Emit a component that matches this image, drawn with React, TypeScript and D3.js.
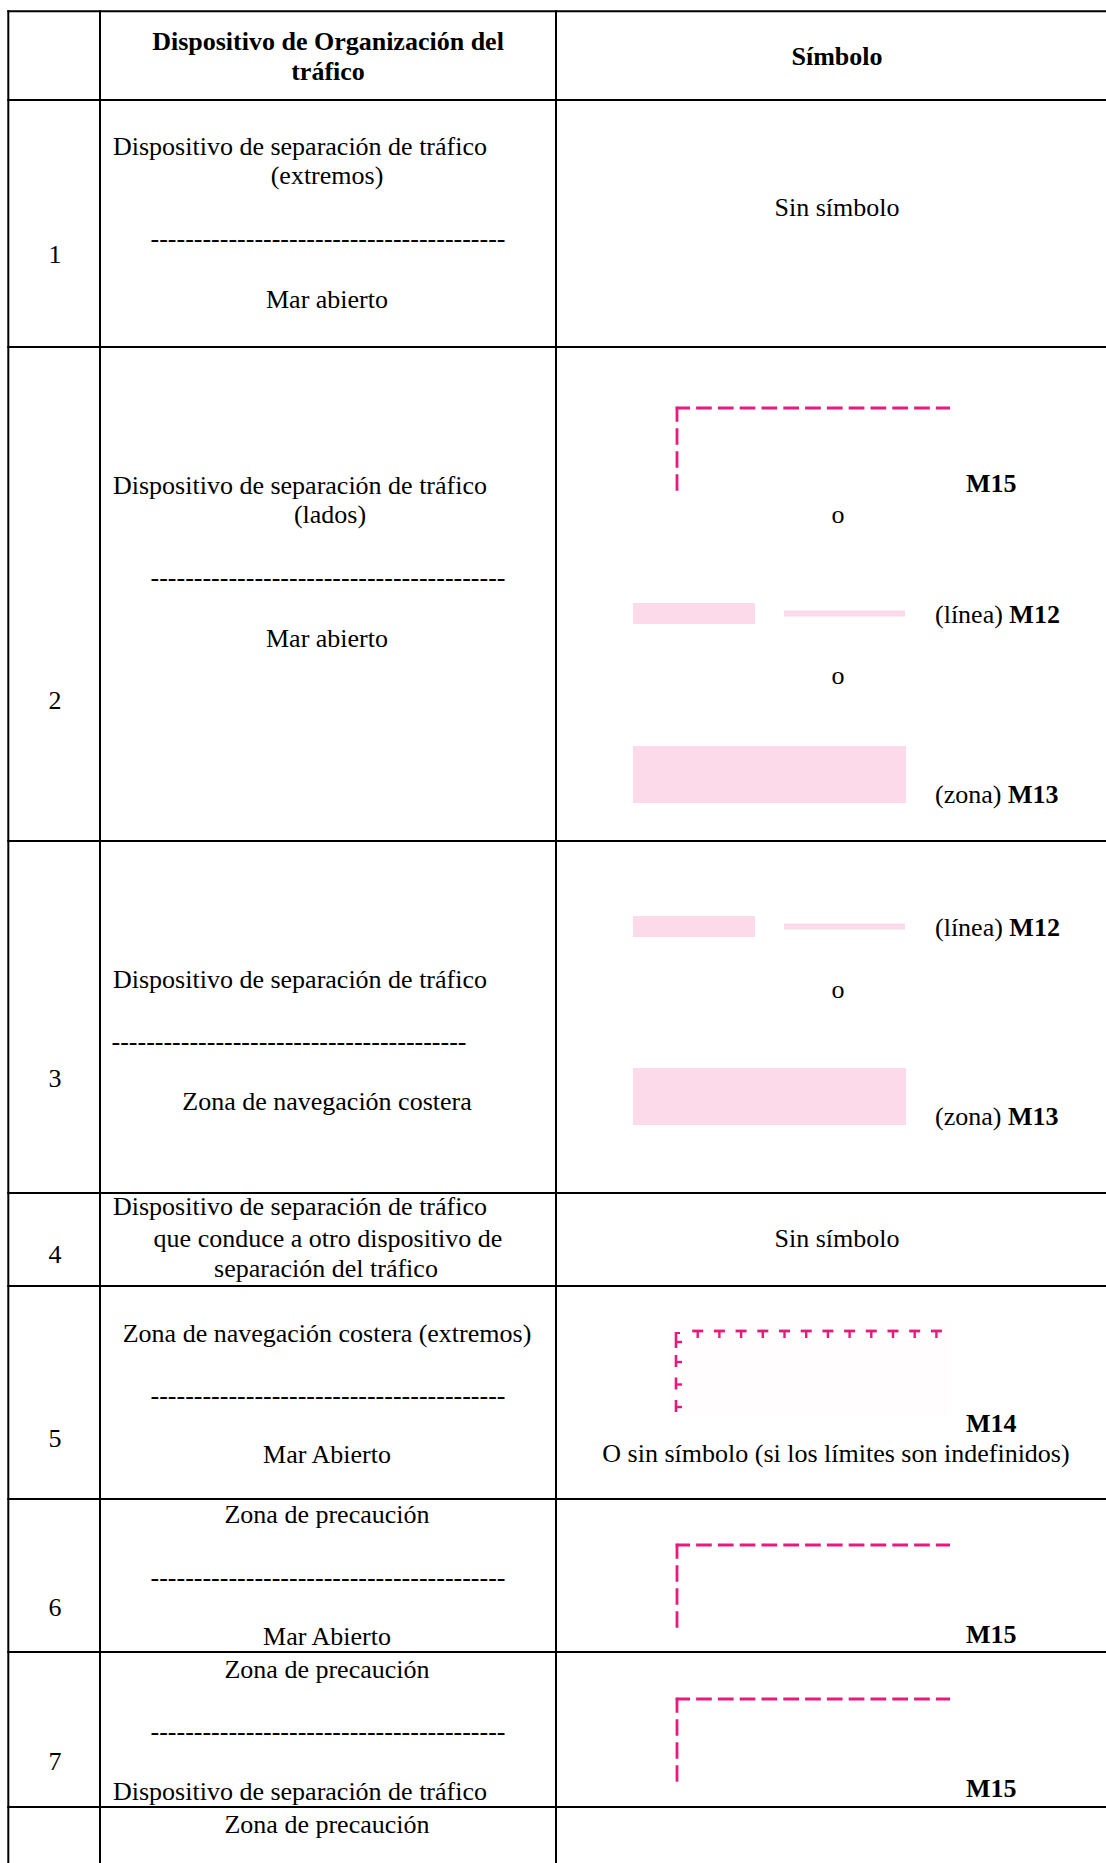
import React from 'react';
import * as d3 from 'd3';

// ---- table content ----
const headerDevice = ['Dispositivo de Organización del', 'tráfico'];
const headerSymbol = 'Símbolo';
const rowNumbers = ['1', '2', '3', '4', '5', '6', '7', ''];

const DASHES = '-'.repeat(41);

const deviceText = [
  ['Dispositivo de separación de tráfico', '(extremos)', DASHES, 'Mar abierto'],
  ['Dispositivo de separación de tráfico', '(lados)', DASHES, 'Mar abierto'],
  ['Dispositivo de separación de tráfico', DASHES, 'Zona de navegación costera'],
  ['Dispositivo de separación de tráfico', 'que conduce a otro dispositivo de', 'separación del tráfico'],
  ['Zona de navegación costera (extremos)', DASHES, 'Mar Abierto'],
  ['Zona de precaución', DASHES, 'Mar Abierto'],
  ['Zona de precaución', DASHES, 'Dispositivo de separación de tráfico'],
  ['Zona de precaución'],
];

// symbol kinds per row
const symbolKinds = [
  ['none'],
  ['M15', 'or', 'M12', 'or', 'M13'],
  ['M12', 'or', 'M13'],
  ['none'],
  ['M14'],
  ['M15'],
  ['M15'],
  [],
];
const noSymbolText = 'Sin símbolo';
const orText = 'o';
const m14Note = 'O sin símbolo (si los límites son indefinidos)';
const lineLabel = '(línea) ';
const zoneLabel = '(zona) ';

// ---- layout ----
const W = 1106;
const H = 1863;
const FONT = '"Liberation Serif", "Times New Roman", serif';
const FS = 26;
const MAGENTA = '#e8197f';
const PINK = '#fcdaea';

const colEdges = [8.3, 100, 556, 1120];
const rowEdges = [11.3, 100, 347, 841, 1193, 1286, 1499, 1652, 1807, 1900];

// center x + baseline for each device line
const deviceLayout = [
  [[300, 155], [327, 184], [328, 247], [327, 308]],
  [[300, 494], [330, 523], [328, 586], [327, 647]],
  [[300, 988], [289, 1050], [327, 1110]],
  [[300, 1215], [328, 1247], [326, 1277]],
  [[327, 1342], [328, 1404], [327, 1463]],
  [[327, 1523], [328, 1586], [327, 1645]],
  [[327, 1678], [328, 1740], [300, 1800]],
  [[327, 1833]],
];
const numberBaselines = [263, 709, 1087, 1263, 1447, 1616, 1770];

// vertical anchors for each symbol item (top y or baseline), and M15 label drop
const symbolLayout = [
  [216],
  [408, 523, 603, 684, 746],
  [916, 998, 1068],
  [1247],
  [1331],
  [1545],
  [1699],
  [],
];
const m15LabelDrop = [0, 84, 0, 0, 0, 98, 98, 0];

const symX = d3.scaleLinear().domain([0, 1]).range([633, 906]);

function M15({ top, drop }: { top: number; drop: number }) {
  const x0 = 677, x1 = 950, len = 84;
  return (
    <g>
      <line x1={x0 - 1.3} y1={top} x2={x1} y2={top} stroke={MAGENTA} strokeWidth={2.8}
        strokeDasharray="15.7 6.1" strokeDashoffset={1.4} />
      <line x1={x0} y1={top - 1.3} x2={x0} y2={top + len} stroke={MAGENTA} strokeWidth={2.8}
        strokeDasharray="16.5 6.5" strokeDashoffset={1.5} />
      <text x={966} y={top + drop} fontWeight="bold">M15</text>
    </g>
  );
}

function M12({ top }: { top: number }) {
  const thickH = 21, thinH = 6;
  return (
    <g>
      <rect x={symX(0)} y={top} width={755 - symX(0)} height={thickH} fill={PINK} />
      <rect x={784} y={top + (thickH - thinH) / 2} width={121} height={thinH} fill={PINK} />
      <text x={935} y={top + 20}>{lineLabel}<tspan fontWeight="bold">M12</tspan></text>
    </g>
  );
}

function M13({ top }: { top: number }) {
  const h = 57;
  return (
    <g>
      <rect x={symX(0)} y={top} width={symX(1) - symX(0)} height={h} fill={PINK} />
      <text x={935} y={top + h}>{zoneLabel}<tspan fontWeight="bold">M13</tspan></text>
    </g>
  );
}

function M14({ top }: { top: number }) {
  const x0 = 676;
  const tees = d3.range(697.7, 940, 21.7);
  const fs = d3.range(top + 24, top + 82, 22.5);
  const col = '#e6197c';
  return (
    <g>
      <rect x={670} y={top - 10} width={280} height={95} fill="#fffdfe" />
      {tees.map((x, i) => (
        <g key={'t' + i}>
          <line x1={x - 5.5} y1={top} x2={x + 5.5} y2={top} stroke={col} strokeWidth={2.8} />
          <line x1={x} y1={top} x2={x} y2={top + 7} stroke={col} strokeWidth={2.4} />
        </g>
      ))}
      {/* corner piece */}
      <line x1={x0} y1={top + 1} x2={x0} y2={top + 17} stroke={col} strokeWidth={2.6} />
      <line x1={x0} y1={top + 2} x2={x0 + 4} y2={top + 2} stroke={col} strokeWidth={2} />
      <line x1={x0} y1={top + 11} x2={x0 + 6} y2={top + 11} stroke={col} strokeWidth={2.4} />
      {fs.map((y, i) => (
        <g key={'f' + i}>
          <line x1={x0} y1={y} x2={x0} y2={y + 12} stroke={col} strokeWidth={2.6} />
          <line x1={x0} y1={y + 7} x2={x0 + 6} y2={y + 7} stroke={col} strokeWidth={2.4} />
        </g>
      ))}
      <text x={966} y={top + 101} fontWeight="bold">M14</text>
      <text x={836} y={top + 131} textAnchor="middle">{m14Note}</text>
    </g>
  );
}

function SymbolCell({ row }: { row: number }) {
  const kinds = symbolKinds[row];
  const pos = symbolLayout[row];
  const cx = 837;
  return (
    <g>
      {kinds.map((k, i) => {
        const p = pos[i];
        if (k === 'none') return <text key={i} x={cx} y={p} textAnchor="middle">{noSymbolText}</text>;
        if (k === 'or') return <text key={i} x={838} y={p} textAnchor="middle">{orText}</text>;
        if (k === 'M15') return <M15 key={i} top={p} drop={m15LabelDrop[row]} />;
        if (k === 'M12') return <M12 key={i} top={p} />;
        if (k === 'M13') return <M13 key={i} top={p} />;
        if (k === 'M14') return <M14 key={i} top={p} />;
        return null;
      })}
    </g>
  );
}

export default function App() {
  return (
    <div style={{ position: 'absolute', left: 0, top: 0 }}>
      <svg width={W} height={H} style={{ display: 'block', background: '#fff' }}
        fontFamily={FONT} fontSize={FS} fill="#000">
        <rect width={W} height={H} fill="#fff" />

        {/* header */}
        {headerDevice.map((t, i) => (
          <text key={i} x={328} y={50 + i * 29.5} textAnchor="middle" fontWeight="bold">{t}</text>
        ))}
        <text x={837} y={65} textAnchor="middle" fontWeight="bold">{headerSymbol}</text>

        {/* device column */}
        {deviceText.map((lines, r) =>
          lines.map((t, i) => (
            <text key={r + '-' + i} x={deviceLayout[r][i][0]} y={deviceLayout[r][i][1]} textAnchor="middle">{t}</text>
          ))
        )}

        {/* row numbers */}
        {rowNumbers.filter(n => n).map((n, i) => (
          <text key={n} x={55} y={numberBaselines[i]} textAnchor="middle">{n}</text>
        ))}

        {/* symbols */}
        {symbolKinds.map((_, r) => <SymbolCell key={r} row={r} />)}

        {/* grid */}
        {rowEdges.map((y, i) => (
          <line key={'h' + i} x1={colEdges[0] - 1} x2={W + 10} y1={y} y2={y} stroke="#000" strokeWidth={2} />
        ))}
        {colEdges.map((x, i) => (
          <line key={'v' + i} x1={x} x2={x} y1={rowEdges[0] - 1} y2={H + 10} stroke="#000" strokeWidth={2} />
        ))}
      </svg>
    </div>
  );
}
